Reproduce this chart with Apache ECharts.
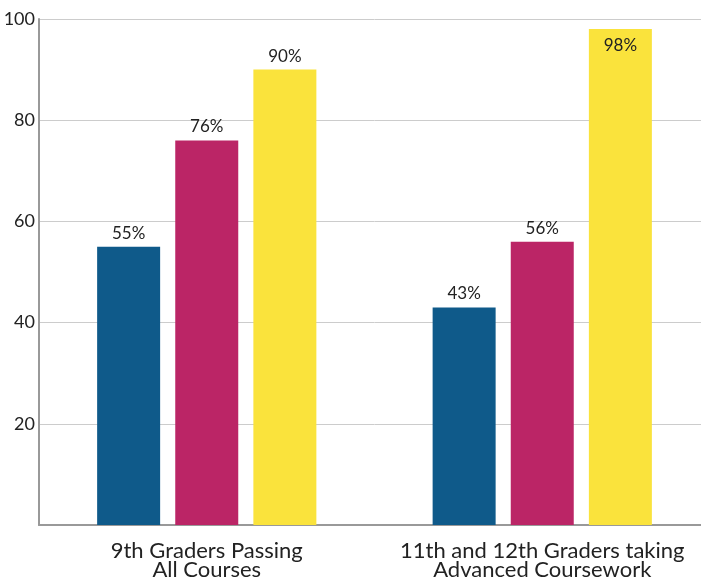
<!DOCTYPE html>
<html>
<head>
<meta charset="utf-8">
<script src="https://cdn.jsdelivr.net/npm/echarts@6/dist/echarts.min.js"></script>
<style>
  html, body { margin: 0; padding: 0; background: #fff; overflow: hidden; }
  /* plot area runs a little past the right edge of the window, as in the original */
  #chart { width: 710px; height: 584px; }
</style>
</head>
<body>
<div id="chart"></div>
<script>
var categories = ['9th Graders Passing\nAll Courses', '11th and 12th Graders taking\nAdvanced Coursework'];
var seriesA = [55, 43];
var seriesB = [76, 56];
var seriesC = [90, 98];
var colors = ['#0f5a8a', '#bb2566', '#fae33c'];

function makeData(values) {
    return values.map(function (v) {
        // labels that would run past the top of the plot go inside the bar
        return { value: v, label: { position: v > 95 ? 'insideTop' : 'top', distance: v > 95 ? 8 : 5 } };
    });
}

function makeSeries(name, values, color) {
    return {
        name: name,
        type: 'bar',
        barWidth: 63,
        barGap: '24%',
        data: makeData(values),
        itemStyle: { color: color },
        label: {
            show: true,
            formatter: '{c}%',
            fontFamily: 'Lato',
            fontSize: 17,
            color: '#222'
        }
    };
}

var chart = echarts.init(document.getElementById('chart'));
var option = {
    animation: false,
    grid: { left: 39, right: 0, top: 19, bottom: 59, containLabel: false },
    xAxis: {
        type: 'category',
        data: categories,
        axisLine: { lineStyle: { color: '#999', width: 2 } },
        axisTick: { show: false },
        axisLabel: {
            interval: 0,
            fontFamily: 'Lato',
            fontSize: 22,
            color: '#222',
            lineHeight: 19,
            margin: 16
        }
    },
    yAxis: {
        type: 'value',
        min: 0,
        max: 100,
        interval: 20,
        axisLine: { show: true, lineStyle: { color: '#999', width: 2 } },
        axisTick: { show: false },
        splitLine: { lineStyle: { color: '#ccc' } },
        axisLabel: {
            fontFamily: 'Lato',
            fontSize: 18,
            color: '#222',
            margin: 4,
            formatter: function (v) { return v === 0 ? '' : v; }
        }
    },
    series: [
        makeSeries('Series 1', seriesA, colors[0]),
        makeSeries('Series 2', seriesB, colors[1]),
        makeSeries('Series 3', seriesC, colors[2])
    ]
};
chart.setOption(option);
</script>
</body>
</html>
